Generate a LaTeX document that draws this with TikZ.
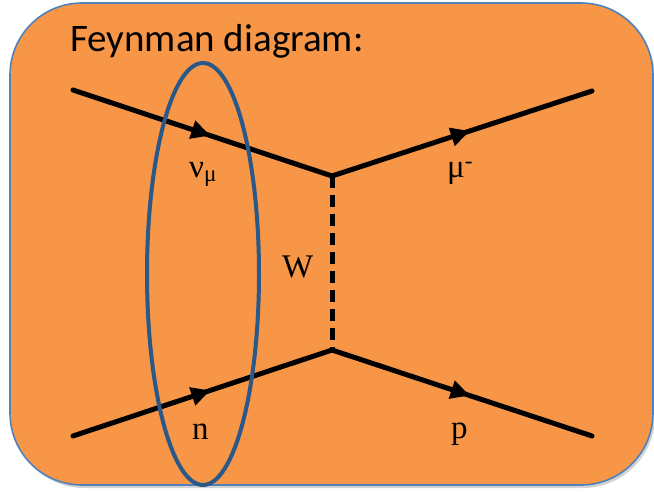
\documentclass[tikz,border=0pt]{standalone}
\usepackage{fontspec}
\setmainfont{Carlito}
\newfontfamily\particlefont{Liberation Serif}
\usetikzlibrary{arrows.meta,decorations.markings,shadows}

\definecolor{panelorange}{HTML}{F79646}
\definecolor{panelblue}{HTML}{4F81BD}
\definecolor{loopblue}{HTML}{2A5889}

\begin{document}
\begin{tikzpicture}[
  x=1pt, y=-1pt,
  fermion/.style={line width=5pt, line cap=round, postaction={decorate},
    decoration={markings, mark=at position 0.53 with {\arrow{Triangle[length=19pt,width=18pt]}}}},
  boson/.style={line width=5pt, dash pattern=on 12pt off 7pt},
  particle/.style={font=\particlefont\fontsize{33}{36}\selectfont, inner sep=0pt}
]
  \useasboundingbox (0,0) rectangle (654,492);

  % background panel
  \draw[fill=panelorange, draw=panelblue, line width=1.6pt, rounded corners=72pt,
    drop shadow={shadow xshift=2pt, shadow yshift=-3pt, opacity=0.35}]
    (10,3) rectangle (653,485);

  \node[anchor=base west, inner sep=0pt, font=\fontsize{39}{42}\selectfont] (title) at (70,52) {Feynman diagram:};

  % vertices and external legs
  \coordinate (nuin)  at (73,90);
  \coordinate (vtop)  at (332,176);
  \coordinate (muout) at (592,91);
  \coordinate (nin)   at (73,436);
  \coordinate (vbot)  at (332,350);
  \coordinate (pout)  at (592,436);

  \draw[fermion] (nuin) -- (vtop);
  \draw[fermion] (vtop) -- (muout);
  \draw[fermion] (nin) -- (vbot);
  \draw[fermion] (vbot) -- (pout);
  \draw[boson] (vtop) -- (vbot);

  \node[particle, anchor=base west] (nulab) at (189,178) {ν\textsubscript{μ}};
  \node[particle, anchor=base west] (mulab) at (447,178) {μ\textsuperscript{-}};
  \node[particle, anchor=base west] (wlab)  at (282,277) {W};
  \node[particle, anchor=base west] (nlab)  at (192,439) {n};
  \node[particle, anchor=base west] (plab)  at (451,438) {p};

  % incoming pair
  \draw[loopblue, line width=4pt] (203,274) ellipse [x radius=56, y radius=211];
\end{tikzpicture}
\end{document}
